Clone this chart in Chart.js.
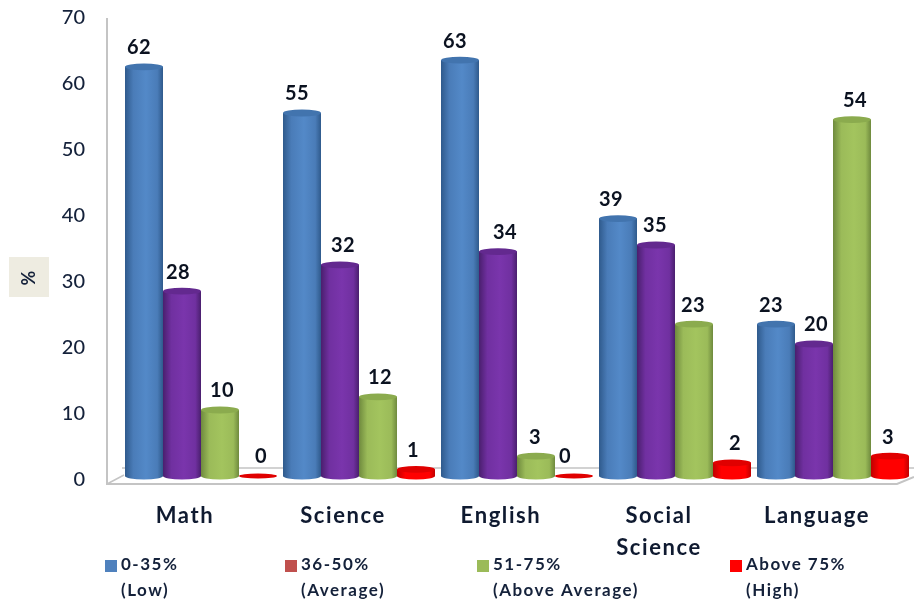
<!DOCTYPE html>
<html>
<head>
<meta charset="utf-8">
<style>html,body{margin:0;padding:0;background:#fff}canvas{display:block}</style>
<script src="https://cdn.jsdelivr.net/npm/chart.js@4"></script>
</head>
<body>
<canvas id="c" width="914" height="606"></canvas>
<script>
const categories = ["Math", "Science", "English", ["Social", "Science"], "Language"];
const yTicks = [0, 10, 20, 30, 40, 50, 60, 70];
const lowValues = [62, 55, 63, 39, 23];
const averageValues = [28, 32, 34, 35, 20];
const aboveAverageValues = [10, 12, 3, 23, 54];
const highValues = [0, 1, 0, 2, 3];
const seriesNames = ["0-35%", "36-50%", "51-75%", "Above 75%"];
const seriesNotes = ["(Low)", "(Average)", "(Above Average)", "(High)"];
const legendSwatches = ["#4f81bd", "#c0504d", "#9bbb59", "#ff0000"];
const legendX = [105, 285, 477, 730];
const labelNudges = [
  [-5, -5, -5, -7, -5],
  [-4, 3, 7, -1, 2],
  [2, 2, -1, -1, 3],
  [3, -3, -9, 3, -2]
];

const bodies = [
  {base:"#4a7cb8", edge:"#2f5a8c", mid:"#5389c8", top:"#4274ae"},
  {base:"#7030a0", edge:"#4a1f6e", mid:"#7a35ac", top:"#63298f"},
  {base:"#9bbb59", edge:"#6f8a3e", mid:"#a3c45e", top:"#8bab4e"},
  {base:"#ff0000", edge:"#c00000", mid:"#ff0000", top:"#e00000"}
];
const TEXT = "#14213a";
const FONT = "Lato, 'Open Sans', sans-serif";

const scene = {
  id: "scene",
  afterUpdate(chart) {
    const s = chart.scales.x;
    if (s.__spaced) return;
    s.__spaced = true;
    const orig = s.drawLabels;
    s.drawLabels = function (a) {
      const c = this.ctx;
      c.save();
      c.letterSpacing = "1.6px";
      orig.call(this, a);
      c.restore();
    };
  },
  beforeDraw(chart) {
    const {ctx} = chart;
    ctx.save();
    ctx.fillStyle = "#eeece1";
    ctx.fillRect(9, 257, 40, 40);
    ctx.translate(29, 278);
    ctx.rotate(-Math.PI / 2);
    ctx.fillStyle = TEXT;
    ctx.font = "700 18px " + FONT;
    ctx.textAlign = "center";
    ctx.textBaseline = "middle";
    ctx.fillText("%", 0, 0);
    ctx.restore();
  },
  beforeDatasetsDraw(chart) {
    const {ctx, chartArea: a} = chart;
    ctx.save();
    ctx.strokeStyle = "#c4c4c4";
    ctx.lineWidth = 2;
    const L = a.left - 15, B = a.bottom + 8;
    ctx.beginPath();
    ctx.moveTo(L, a.top + 4); ctx.lineTo(L, B);
    ctx.lineTo(a.right - 15, B);
    ctx.lineTo(a.right + 2, a.bottom + 1);
    ctx.stroke();
    ctx.lineWidth = 1.5;
    ctx.beginPath();
    ctx.moveTo(L, B); ctx.lineTo(a.left + 2, a.bottom - 1);
    ctx.moveTo(a.left, a.bottom - 8); ctx.lineTo(a.right + 2, a.bottom - 8);
    ctx.stroke();
    ctx.restore();
  },
  afterDatasetsDraw(chart) {
    const {ctx} = chart;
    chart.data.datasets.forEach((ds, i) => {
      const meta = chart.getDatasetMeta(i);
      const b = bodies[i];
      meta.data.forEach((el, j) => {
        const x = el.x, y = el.y, base = el.base, w = el.width;
        const l = x - w / 2, r = x + w / 2;
        const ry = 3.4;
        const g = ctx.createLinearGradient(l, 0, r, 0);
        g.addColorStop(0, b.edge);
        g.addColorStop(0.22, b.base);
        g.addColorStop(0.55, b.mid);
        g.addColorStop(0.85, b.base);
        g.addColorStop(1, b.edge);
        ctx.save();
        if (base - y > 0.5) {
          ctx.fillStyle = g;
          ctx.beginPath();
          ctx.ellipse(x, base, w / 2, ry, 0, 0, Math.PI * 2);
          ctx.fill();
          ctx.fillRect(l, y, w, base - y);
        }
        ctx.fillStyle = b.top;
        ctx.beginPath();
        ctx.ellipse(x, y, w / 2, ds.data[j] === 0 ? 2.6 : ry, 0, 0, Math.PI * 2);
        ctx.fill();
        ctx.restore();
      });
    });
    ctx.save();
    ctx.fillStyle = "#0b1220";
    ctx.font = "700 20px " + FONT;
    ctx.letterSpacing = "0.5px";
    ctx.textAlign = "center";
    ctx.textBaseline = "middle";
    chart.data.datasets.forEach((ds, i) => {
      chart.getDatasetMeta(i).data.forEach((el, j) => {
        ctx.fillText(String(ds.data[j]), el.x + labelNudges[i][j], el.y - 19);
      });
    });
    ctx.restore();
    ctx.save();
    ctx.font = "700 17px " + FONT;
    ctx.letterSpacing = "1.5px";
    ctx.textBaseline = "middle";
    ctx.textAlign = "left";
    seriesNames.forEach((n, i) => {
      ctx.fillStyle = legendSwatches[i];
      ctx.fillRect(legendX[i], 560, 12, 12);
      ctx.fillStyle = TEXT;
      ctx.fillText(n, legendX[i] + 16, 565);
      ctx.fillText(seriesNotes[i], legendX[i] + 16, 591);
    });
    ctx.restore();
  }
};

new Chart(document.getElementById("c"), {
  type: "bar",
  data: {
    labels: categories,
    datasets: [
      {label: seriesNames[0], data: lowValues, backgroundColor: bodies[0].base},
      {label: seriesNames[1], data: averageValues, backgroundColor: bodies[1].base},
      {label: seriesNames[2], data: aboveAverageValues, backgroundColor: bodies[2].base},
      {label: seriesNames[3], data: highValues, backgroundColor: bodies[3].base}
    ]
  },
  options: {
    responsive: false,
    animation: false,
    devicePixelRatio: 1,
    layout: {padding: {top: 14, right: 2, left: 0, bottom: 0}},
    plugins: {legend: {display: false}, tooltip: {enabled: false}, title: {display: false}},
    datasets: {bar: {barPercentage: 1, categoryPercentage: 0.962}},
    scales: {
      x: {
        grid: {display: false, drawTicks: false},
        border: {display: false},
        afterFit(s) { s.height = 130; s.paddingLeft = 0; s.paddingRight = 0; },
        ticks: {
          autoSkip: false, maxRotation: 0, minRotation: 0,
          padding: 24, labelOffset: -16,
          color: "#0f1a30",
          font: {family: FONT, size: 22, weight: "700", lineHeight: 1.45}
        }
      },
      y: {
        min: 0, max: 70,
        grid: {display: false, drawTicks: false},
        border: {display: false},
        afterFit(s) { s.width = 122; s.paddingTop = 0; s.paddingBottom = 0; },
        afterBuildTicks(s) { s.ticks = yTicks.map(v => ({value: v})); },
        ticks: {
          padding: 37, labelOffset: 4,
          color: TEXT,
          font: {family: FONT, size: 20, weight: "500"}
        }
      }
    }
  },
  plugins: [scene]
});
</script>
</body>
</html>
